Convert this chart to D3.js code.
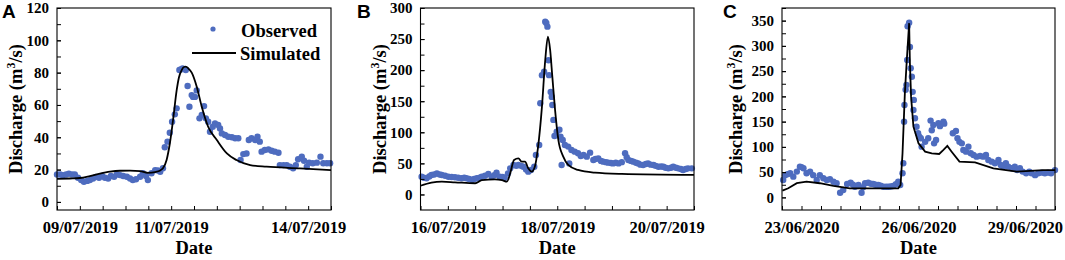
<!DOCTYPE html>
<html>
<head>
<meta charset="utf-8">
<script src="https://cdn.jsdelivr.net/npm/d3@7"></script>
<style>
  body { margin: 0; background: #fff; }
  svg { display: block; font-family: "Liberation Serif", "Times New Roman", serif; }
</style>
</head>
<body>
<svg id="chart" width="1065" height="260"></svg>
<script>
// Observed discharge, [day of month, m3/s]
const obsA = [[8.50,17],[8.57,17],[8.63,16.5],[8.70,17],[8.76,17.5],[8.83,17],[8.89,17],[8.96,15],[9.03,13.5],[9.09,12.5],[9.16,13],[9.22,13.5],[9.29,14.5],[9.35,15.5],[9.42,15],[9.49,16],[9.55,15],[9.62,14.5],[9.68,16],[9.75,15.5],[9.81,17],[9.88,16.6],[9.95,16],[10.03,15.6],[10.10,14.5],[10.16,13.5],[10.23,14],[10.32,15.6],[10.38,17.7],[10.45,16],[10.49,13.5],[10.57,17.7],[10.65,19.7],[10.71,19.5],[10.76,18.7],[10.82,20.8],[10.86,33.8],[10.92,37.3],[10.97,42.8],[11.02,49.6],[11.08,54.2],[11.12,57.9],[11.18,81.6],[11.21,82],[11.25,82.6],[11.32,81.6],[11.36,71.7],[11.40,58.9],[11.45,66.1],[11.48,65],[11.52,65],[11.56,69],[11.62,51.7],[11.67,53.8],[11.72,59.3],[11.76,51.7],[11.81,49.6],[11.85,43.4],[11.91,46.5],[11.96,48.6],[12.03,47.6],[12.07,45.5],[12.11,42.4],[12.18,41.4],[12.25,40.3],[12.33,40],[12.40,39.4],[12.47,39.4],[12.52,25.9],[12.58,29.6],[12.65,30],[12.70,38.3],[12.76,39.4],[12.84,38.3],[12.89,40.3],[12.94,37.3],[12.98,31.1],[13.05,32.1],[13.13,32.5],[13.20,31.7],[13.27,31.1],[13.35,30.4],[13.38,22.8],[13.46,22.8],[13.53,22.8],[13.60,21.8],[13.67,20.8],[13.73,22.8],[13.78,26.4],[13.86,28],[13.91,25.5],[13.97,21.8],[14.02,24.3],[14.10,23.9],[14.19,24.3],[14.27,28],[14.33,23.9],[14.41,23.9],[14.48,23.9]];
const simA = [[8.50,14.2],[8.78,14.5],[9.00,14.8],[9.22,16],[9.44,17.5],[9.66,18.7],[9.88,19.3],[10.10,19.4],[10.32,19],[10.49,18],[10.65,18.5],[10.76,19.5],[10.82,20.8],[10.90,26],[10.97,36],[11.05,52.7],[11.12,69],[11.17,77],[11.23,81.6],[11.28,83.5],[11.32,83.7],[11.38,82.5],[11.45,80],[11.56,71.3],[11.67,58.9],[11.81,46.5],[12.00,38.3],[12.22,30],[12.43,25.9],[12.73,22.8],[13.09,21.8],[13.82,20.8],[14.50,19.7]];

const obsB = [[15.52,28.6],[15.56,27],[15.61,26],[15.66,29],[15.70,31.4],[15.75,32],[15.80,34],[15.85,32],[15.89,31.4],[15.95,30],[16.01,28.6],[16.07,28],[16.13,27.6],[16.19,27],[16.25,26],[16.30,27],[16.34,26],[16.39,25],[16.44,23.3],[16.48,25],[16.53,26],[16.58,27],[16.62,28.6],[16.68,30],[16.74,33],[16.80,28.6],[16.85,31],[16.89,35],[16.95,28.6],[17.00,28],[17.04,27],[17.10,34],[17.14,42],[17.20,47.5],[17.25,46],[17.29,47.5],[17.34,46],[17.38,44.7],[17.43,40],[17.47,36.7],[17.52,39.4],[17.58,44.7],[17.61,63.6],[17.67,79.6],[17.69,146.7],[17.72,192],[17.76,197.6],[17.78,278],[17.80,276],[17.82,270],[17.84,216],[17.85,192],[17.88,165],[17.90,157],[17.91,144],[17.93,120],[17.95,94],[17.99,101],[18.04,104],[18.06,93],[18.08,47.5],[18.10,87.7],[18.14,79.6],[18.20,77],[18.22,50],[18.26,71.6],[18.32,68.9],[18.38,66.3],[18.43,62],[18.48,63.6],[18.54,60.8],[18.60,67.3],[18.66,55.5],[18.70,57],[18.75,58],[18.80,54],[18.84,52.8],[18.89,52],[18.93,51.2],[18.98,50.5],[19.02,50],[19.07,51],[19.12,50],[19.18,52],[19.24,66.3],[19.27,60],[19.30,55.5],[19.35,54],[19.39,52.8],[19.44,51],[19.48,50],[19.52,48],[19.57,47.5],[19.62,49],[19.66,50],[19.71,48],[19.76,47.5],[19.80,46],[19.85,44.7],[19.90,45],[19.94,44.7],[19.98,43],[20.03,42],[20.08,43],[20.12,44.7],[20.17,43],[20.21,42],[20.26,41],[20.30,39.4],[20.35,41],[20.39,42],[20.46,42]];
const simB = [[15.50,14],[15.70,19],[15.89,20.6],[16.13,19.6],[16.50,18],[16.62,23],[16.86,24.4],[16.99,23],[17.08,20.6],[17.14,34],[17.21,55.5],[17.29,58],[17.35,52.8],[17.41,52.8],[17.47,42],[17.53,36.7],[17.59,44.7],[17.65,77],[17.72,141],[17.78,216],[17.83,254],[17.87,232.5],[17.91,189.5],[17.96,136],[18.02,87.7],[18.11,60.8],[18.20,47.5],[18.38,39.4],[18.69,35],[19.18,33],[20.50,31.4]];

const obsC = [[22.53,34.5],[22.58,44],[22.64,46],[22.71,47.7],[22.79,41],[22.88,51],[22.96,60.8],[23.00,60],[23.05,57.6],[23.13,47.7],[23.22,51],[23.30,44],[23.39,34.5],[23.47,44],[23.56,37.8],[23.65,34.5],[23.73,35.8],[23.82,31],[23.90,28],[23.99,9.3],[24.07,14.7],[24.17,26.5],[24.26,29],[24.32,25],[24.37,21],[24.46,24.5],[24.54,9.3],[24.58,20],[24.63,28],[24.71,29],[24.78,27],[24.84,26.5],[24.90,25],[24.97,24.5],[25.03,23],[25.10,21],[25.17,21],[25.23,21],[25.29,21.5],[25.35,22.5],[25.42,26],[25.48,31],[25.53,24.5],[25.59,47.7],[25.61,67.5],[25.63,150],[25.64,183],[25.67,213],[25.69,222.6],[25.71,272],[25.72,339],[25.76,346],[25.78,298],[25.80,255.6],[25.83,239],[25.85,209],[25.87,173],[25.88,193],[25.91,156.6],[25.95,140],[25.99,127],[26.02,120],[26.06,117],[26.08,100.4],[26.17,110],[26.25,117],[26.31,152],[26.34,133],[26.38,143.4],[26.40,107],[26.45,113.7],[26.51,146.7],[26.55,141],[26.64,150],[26.66,146],[26.88,127],[26.96,131.5],[27.00,117],[27.05,110],[27.11,107],[27.15,93.9],[27.22,90.5],[27.28,100.4],[27.34,87.3],[27.41,84],[27.49,80.6],[27.58,82],[27.66,80.6],[27.73,84],[27.79,74],[27.88,70.7],[27.96,67.5],[28.05,74],[28.11,64],[28.17,60.8],[28.24,67.5],[28.30,60.8],[28.39,57.6],[28.47,60.8],[28.53,54],[28.60,57.6],[28.67,51],[28.76,47.7],[28.84,51],[28.90,47.7],[28.99,44],[29.07,47.7],[29.16,49],[29.24,47.7],[29.32,49],[29.40,47.7],[29.50,54]];
const simC = [[22.51,13.3],[22.66,18],[22.88,28],[23.13,31],[23.47,28],[23.82,22.6],[24.24,18],[24.93,18],[25.48,18],[25.54,24.5],[25.59,87],[25.65,206],[25.70,272],[25.76,345],[25.78,265],[25.81,199],[25.87,140],[26.00,107],[26.17,90.5],[26.34,87.3],[26.53,86],[26.64,94],[26.74,101.8],[26.85,90.5],[27.05,70.7],[27.45,69.5],[27.92,57.6],[28.52,51],[29.20,54],[29.50,54]];

// axis labels
const labelDaysA = [9, 11, 14], labelTextA = ["09/07/2019", "11/07/2019", "14/07/2019"];
const labelDaysB = [16, 18, 20], labelTextB = ["16/07/2019", "18/07/2019", "20/07/2019"];
const labelDaysC = [23, 26, 29], labelTextC = ["23/06/2020", "26/06/2020", "29/06/2020"];

const W = 1065, mtop = 8, mbottom = 210;
const dotColor = "#4e6cbf";

const svg = d3.select("#chart");
svg.append("rect").attr("width", W).attr("height", 260).attr("fill", "#fff");

const panels = [
    {letter: "A", lx: 2, left: 57, right: 331, xDomain: [8.5, 14.5], yDomain: [-5, 120], yStep: 20,
     obs: obsA, sim: simA, days: labelDaysA, texts: labelTextA, curve: d3.curveMonotoneX, titleOff: 35, legend: true},
    {letter: "B", lx: 357, left: 420.5, right: 694, xDomain: [15.5, 20.5], yDomain: [-25, 300], yStep: 50,
     obs: obsB, sim: simB, days: labelDaysB, texts: labelTextB, curve: d3.curveMonotoneX, titleOff: 35},
    {letter: "C", lx: 723, left: 782, right: 1055, xDomain: [22.5, 29.5], yDomain: [-25, 375], yStep: 50,
     obs: obsC, sim: simC, days: labelDaysC, texts: labelTextC, curve: d3.curveLinear, titleOff: 40}
];

function drawPanel(p) {
    let x = d3.scaleLinear().domain(p.xDomain).range([p.left, p.right]);
    let y = d3.scaleLinear().domain(p.yDomain).range([mbottom, mtop]);
    let g = svg.append("g");

    // observed points
    g.append("g")
        .selectAll("circle")
        .data(p.obs)
        .join("circle")
            .attr("cx", d => x(d[0]))
            .attr("cy", d => y(d[1]))
            .attr("r", 3.2)
            .attr("fill", dotColor);

    // simulated line
    let line = d3.line().x(d => x(d[0])).y(d => y(d[1])).curve(p.curve);
    g.append("path")
        .datum(p.sim)
        .attr("d", line)
        .attr("fill", "none")
        .attr("stroke", "#000")
        .attr("stroke-width", 1.8);

    // frame
    g.append("rect")
        .attr("x", p.left).attr("y", mtop)
        .attr("width", p.right - p.left).attr("height", mbottom - mtop)
        .attr("fill", "none").attr("stroke", "#000").attr("stroke-width", 1.1);

    // y axis: major + minor ticks pointing in
    let yMax = p.yDomain[1];
    let minorY = d3.range(0, yMax + 0.1, p.yStep / 2);
    let majorY = d3.range(0, yMax + 0.1, p.yStep);
    g.append("g")
        .attr("transform", `translate(${p.left},0)`)
        .call(d3.axisLeft(y).tickValues(minorY).tickSize(-4).tickFormat(""))
        .call(a => a.select(".domain").remove());
    g.append("g")
        .attr("transform", `translate(${p.left},0)`)
        .call(d3.axisLeft(y).tickValues(majorY).tickSize(-4).tickPadding(8))
        .call(a => a.select(".domain").remove())
        .call(a => a.selectAll("text").attr("font-size", 15).attr("font-weight", "bold").attr("fill", "#000")
            .attr("font-family", "Liberation Serif, Times New Roman, serif"));

    // x axis: half-day ticks, date labels
    let xt = d3.range(p.xDomain[0], p.xDomain[1] + 0.01, 0.5);
    g.append("g")
        .attr("transform", `translate(0,${mbottom})`)
        .call(d3.axisBottom(x).tickValues(xt).tickSize(-4).tickFormat(""))
        .call(a => a.select(".domain").remove());
    let xl = g.append("g")
        .attr("transform", `translate(0,${mbottom})`)
        .call(d3.axisBottom(x).tickValues(p.days).tickSize(0).tickPadding(11)
            .tickFormat((d, i) => p.texts[i]))
        .call(a => a.select(".domain").remove());
    xl.selectAll("text").attr("font-size", 16.5).attr("font-weight", "bold").attr("fill", "#000")
        .attr("font-family", "Liberation Serif, Times New Roman, serif")
        .each(function() {
            let r = this.getBoundingClientRect();
            if (r.right > W - 2) d3.select(this).attr("x", W - 2 - r.right);
        });

    // titles
    g.append("text")
        .attr("x", (p.left + p.right) / 2).attr("y", 254)
        .attr("text-anchor", "middle")
        .attr("font-size", 18.5).attr("font-weight", "bold")
        .text("Date");
    let yt = g.append("text")
        .attr("transform", `translate(${p.left - p.titleOff},${(mtop + mbottom) / 2}) rotate(-90)`)
        .attr("text-anchor", "middle")
        .attr("font-size", 18.5).attr("font-weight", "bold");
    yt.append("tspan").text("Discharge (m");
    yt.append("tspan").attr("font-size", 12).attr("dy", -7).text("3");
    yt.append("tspan").attr("dy", 7).text("/s)");

    // panel letter
    g.append("text")
        .attr("x", p.lx).attr("y", 18)
        .attr("font-family", "Liberation Sans, Arial, sans-serif")
        .attr("font-size", 19).attr("font-weight", "bold")
        .text(p.letter);

    if (p.legend) {
        let lg = g.append("g").attr("font-size", 18.5).attr("font-weight", "bold");
        lg.append("circle").attr("cx", 213).attr("cy", 29).attr("r", 2.6).attr("fill", dotColor);
        lg.append("text").attr("x", 241).attr("y", 36.5).text("Observed");
        lg.append("line").attr("x1", 192).attr("x2", 236).attr("y1", 53).attr("y2", 53)
            .attr("stroke", "#000").attr("stroke-width", 1.8);
        lg.append("text").attr("x", 240).attr("y", 60).text("Simulated");
    }
}

for (let p of panels) drawPanel(p);
</script>
</body>
</html>
